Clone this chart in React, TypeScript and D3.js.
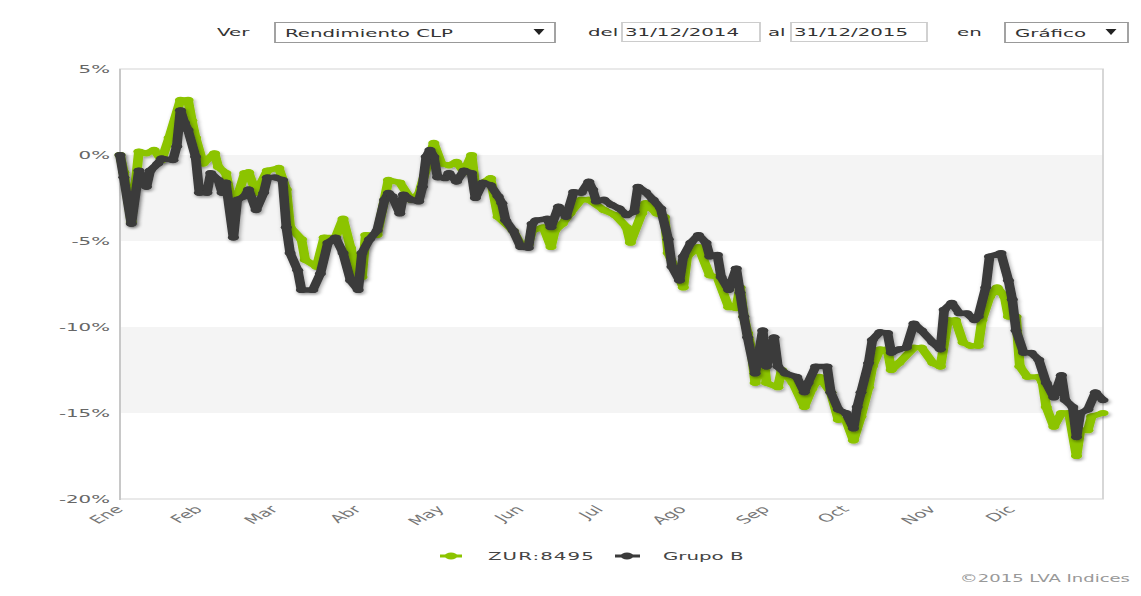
import React from 'react';
import * as d3 from 'd3';

const SX = 1.8; // horizontal stretch of the whole picture
const W = 1141;
const H = 596;

const monthLabels = ['Ene', 'Feb', 'Mar', 'Abr', 'May', 'Jun', 'Jul', 'Ago', 'Sep', 'Oct', 'Nov', 'Dic'];
const monthStartIdx = [0, 21, 41, 63, 85, 106, 127, 149, 171, 192, 215, 236];
const yTicks = [5, 0, -5, -10, -15, -20];
const bandFrom = [0, -10];
const bandTo = [-5, -15];

const zurIdx = [0, 1, 3, 5, 7, 9, 11, 13, 16, 18, 19, 20, 22, 25, 26, 28, 30, 33, 34, 36, 39, 42, 44, 45, 48, 49, 52, 54, 57, 59, 61, 63, 64, 65, 68, 71, 74, 77, 79, 83, 85, 87, 89, 91, 93, 94, 98, 100, 104, 106, 108, 109, 112, 114, 115, 117, 119, 122, 124, 128, 131, 134, 135, 138, 139, 142, 144, 145, 149, 150, 153, 156, 158, 161, 163, 164, 165, 166, 167, 168, 170, 171, 174, 175, 178, 181, 183, 185, 188, 190, 192, 194, 196, 198, 199, 201, 203, 204, 206, 210, 212, 215, 217, 219, 221, 223, 225, 227, 228, 230, 232, 234, 235, 237, 238, 240, 243, 244, 245, 247, 249, 251, 253, 254, 256, 257, 260];
const zurVal = [0, -1.0, -3.9, 0.2, 0.1, 0.3, -0.3, 1.0, 3.2, 3.2, 2.0, 1.0, -0.5, 0.1, -0.7, -1.05, -3.2, -1.05, -1.0, -2.2, -0.9, -0.75, -2.0, -4.2, -4.9, -6.1, -6.5, -4.8, -4.8, -3.7, -5.4, -7.1, -7.1, -4.65, -4.65, -1.45, -1.6, -2.6, -2.3, 0.7, -0.5, -0.6, -0.4, -1.0, 0.0, -1.85, -1.35, -3.6, -4.4, -5.2, -5.2, -4.4, -4.2, -5.35, -4.4, -4.0, -3.4, -2.6, -2.6, -3.2, -3.5, -4.2, -5.1, -3.4, -2.8, -3.4, -3.6, -5.7, -7.7, -5.9, -5.35, -7.0, -7.1, -8.85, -8.9, -7.7, -9.4, -10.35, -11.3, -13.25, -11.3, -13.25, -13.5, -12.5, -13.25, -14.65, -13.6, -12.9, -13.8, -15.4, -15.4, -16.6, -15.2, -13.5, -12.3, -11.3, -11.3, -12.5, -12.1, -11.2, -11.2, -12.1, -12.3, -9.6, -9.6, -10.9, -11.1, -11.1, -9.6, -8.25, -7.7, -8.25, -9.4, -9.4, -12.3, -12.9, -12.9, -13.2, -14.65, -15.8, -15.0, -15.0, -17.5, -16.0, -16.0, -15.2, -15.0];

const grupoIdx = [0, 1, 3, 5, 7, 8, 10, 11, 14, 15, 16, 17, 18, 20, 21, 23, 24, 26, 27, 28, 30, 31, 33, 34, 36, 38, 39, 41, 43, 44, 45, 47, 48, 51, 53, 55, 57, 59, 61, 63, 64, 66, 68, 70, 71, 72, 74, 75, 77, 79, 80, 81, 82, 83, 84, 86, 87, 89, 91, 93, 94, 96, 98, 100, 101, 102, 104, 106, 108, 109, 110, 113, 114, 116, 118, 120, 122, 124, 125, 126, 128, 130, 132, 134, 136, 137, 139, 141, 143, 145, 146, 148, 149, 151, 153, 155, 156, 158, 159, 161, 163, 164, 165, 166, 168, 169, 170, 171, 173, 174, 176, 179, 181, 182, 184, 187, 188, 190, 192, 194, 195, 196, 198, 199, 201, 203, 204, 206, 208, 210, 212, 215, 217, 218, 220, 222, 224, 226, 227, 229, 230, 233, 235, 236, 237, 239, 241, 243, 245, 247, 249, 250, 252, 253, 254, 256, 258, 260];
const grupoVal = [0, -1.3, -4.0, -0.9, -1.85, -0.9, -0.5, -0.2, -0.3, 0.5, 2.6, 1.9, 1.45, -0.1, -2.2, -2.2, -1.05, -1.45, -2.2, -1.6, -4.8, -2.6, -2.4, -2.0, -3.2, -2.2, -1.3, -1.3, -1.45, -4.2, -5.7, -6.7, -7.85, -7.85, -6.9, -5.1, -4.8, -5.7, -7.3, -7.85, -5.7, -4.9, -4.4, -2.6, -2.2, -2.4, -3.4, -2.3, -2.6, -2.7, -1.85, -0.1, 0.3, -0.1, -1.3, -1.35, -1.05, -1.55, -0.9, -1.05, -2.5, -1.6, -1.75, -2.4, -2.8, -3.8, -4.4, -5.35, -5.4, -4.0, -3.8, -3.7, -4.2, -3.0, -3.6, -2.15, -2.2, -1.55, -2.0, -2.7, -2.6, -2.9, -3.1, -3.5, -3.3, -1.85, -2.15, -2.6, -3.1, -4.9, -6.5, -7.3, -5.9, -5.1, -4.65, -5.1, -5.9, -5.8, -7.1, -7.85, -6.6, -8.0, -9.4, -10.6, -12.7, -11.5, -10.2, -12.3, -10.6, -12.3, -12.7, -12.9, -13.8, -13.25, -12.3, -12.3, -13.8, -14.8, -15.0, -15.9, -14.65, -13.8, -12.1, -10.75, -10.3, -10.35, -11.5, -11.3, -11.2, -9.8, -10.2, -10.9, -11.3, -9.0, -8.6, -9.2, -9.2, -9.6, -9.4, -7.7, -5.9, -5.7, -7.3, -8.4, -10.2, -11.5, -11.5, -11.9, -13.25, -14.1, -12.8, -14.25, -14.65, -16.4, -15.0, -14.8, -13.8, -14.25];

const seriesNames = ['ZUR:8495', 'Grupo B'];
const GREEN = '#8cc400';
const DARK = '#3b3b3b';

const PL = 120, PR = 1103, PT = 69, PB = 499;

export default function App() {
  const x = d3.scaleLinear().domain([0, 260]).range([PL / SX, PR / SX]);
  const y = d3.scaleLinear().domain([-20, 5]).range([PB, PT]);
  const line = d3.line<[number, number]>().x((d) => x(d[0])).y((d) => y(d[1]));

  const zur: [number, number][] = zurIdx.map((d, i) => [d, zurVal[i]]);
  const grupo: [number, number][] = grupoIdx.map((d, i) => [d, grupoVal[i]]);

  const ctrl = { fontSize: 11, fill: '#333' } as const;
  const tri = (cx: number, ty: number) => {
    const hw = 5.5 / SX;
    const c = cx / SX;
    return `M${c - hw},${ty} L${c + hw},${ty} L${c},${ty + 6} Z`;
  };

  const series = [
    { data: zur, color: GREEN },
    { data: grupo, color: DARK },
  ];

  return (
    <svg width={W} height={H} style={{ position: 'absolute', left: 0, top: 0, background: '#fff' }}>
      <defs>
        <filter id="sh" x="-5%" y="-5%" width="110%" height="115%">
          <feDropShadow dx="0.8" dy="1.8" stdDeviation="1.1" floodColor="#000" floodOpacity="0.35" />
        </filter>
      </defs>
      <g transform={`scale(${SX},1)`} fontFamily="'DejaVu Sans', Verdana, sans-serif">
        {/* top controls */}
        <text x={217 / SX} y={36} {...ctrl}>Ver</text>
        <rect x={275 / SX} y={22.5} width={280 / SX} height={20} fill="#fff" stroke="#999" strokeWidth={1} />
        <text x={285 / SX} y={37} {...ctrl}>Rendimiento CLP</text>
        <path d={tri(539, 29)} fill="#222" />
        <text x={588 / SX} y={36} {...ctrl}>del</text>
        <rect x={622 / SX} y={22.5} width={138 / SX} height={19} fill="#fff" stroke="#ccc" strokeWidth={1} />
        <text x={625 / SX} y={36.5} {...ctrl}>31/12/2014</text>
        <text x={768 / SX} y={36} {...ctrl}>al</text>
        <rect x={791 / SX} y={22.5} width={136 / SX} height={19} fill="#fff" stroke="#ccc" strokeWidth={1} />
        <text x={794 / SX} y={36.5} {...ctrl}>31/12/2015</text>
        <text x={957 / SX} y={36} {...ctrl}>en</text>
        <rect x={1005 / SX} y={22.5} width={123 / SX} height={20} fill="#fff" stroke="#999" strokeWidth={1} />
        <text x={1015 / SX} y={37} {...ctrl}>Gráfico</text>
        <path d={tri(1111, 29)} fill="#222" />

        {/* plot background bands */}
        {bandFrom.map((b, i) => (
          <rect key={i} x={x(0)} y={y(b)} width={x(260) - x(0)} height={y(bandTo[i]) - y(b)} fill="#f4f4f4" />
        ))}
        <rect x={x(0)} y={PT} width={x(260) - x(0)} height={PB - PT} fill="none" stroke="#d3d3d3" strokeWidth={1} />
        <line x1={x(0)} x2={x(0)} y1={PT} y2={PB + 1} stroke="#c8c8c8" strokeWidth={1.1} />

        {/* y labels */}
        {yTicks.map((t) => (
          <text key={t} x={110 / SX} y={y(t) + 4} textAnchor="end" fontSize={11} fill="#666">
            {`${t}%`}
          </text>
        ))}

        {/* x labels */}
        {monthStartIdx.map((m, i) => (
          <text
            key={i}
            transform={`translate(${x(m) + 4 / SX},${PB + 11}) rotate(-45)`}
            textAnchor="end"
            fontSize={11}
            fill="#777"
          >
            {monthLabels[i]}
          </text>
        ))}

        {/* series */}
        {series.map((s, si) => (
          <g key={si} filter="url(#sh)">
            <path d={line(s.data) || ''} fill="none" stroke={s.color} strokeWidth={5.4} strokeLinejoin="round" strokeLinecap="round" />
            {s.data.map((d, i) => (
              <circle key={i} cx={x(d[0])} cy={y(d[1])} r={3.1} fill={s.color} />
            ))}
          </g>
        ))}

        {/* legend */}
        <line x1={440 / SX} x2={462 / SX} y1={556} y2={556} stroke={GREEN} strokeWidth={3} />
        <circle cx={451 / SX} cy={556} r={3.4} fill={GREEN} />
        <text x={488 / SX} y={560} fontSize={11} fill="#444" letterSpacing={0.6}>{seriesNames[0]}</text>
        <line x1={615 / SX} x2={640 / SX} y1={556} y2={556} stroke={DARK} strokeWidth={3} />
        <circle cx={627 / SX} cy={556} r={3.4} fill={DARK} />
        <text x={663 / SX} y={560} fontSize={11} fill="#444">{seriesNames[1]}</text>

        <text x={1130 / SX} y={582} textAnchor="end" fontSize={10} fill="#999">©2015 LVA Indices</text>
      </g>
    </svg>
  );
}
